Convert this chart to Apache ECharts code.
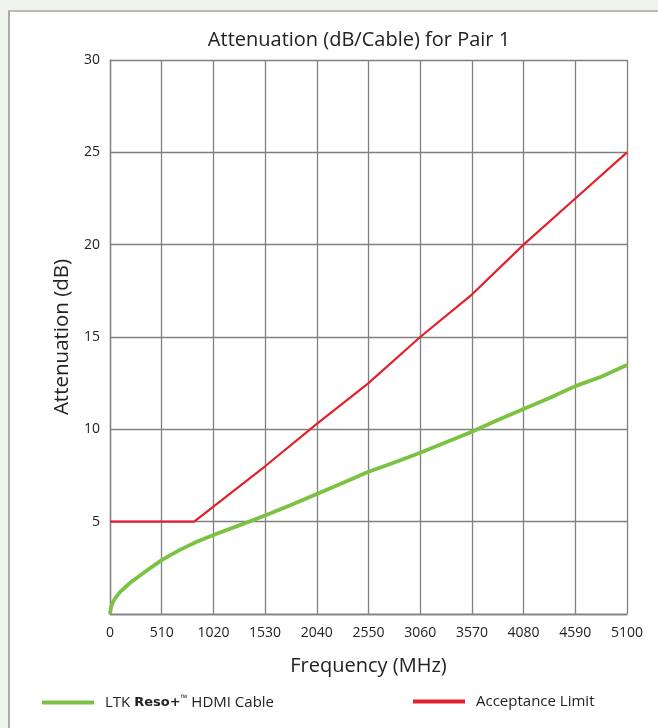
<!DOCTYPE html>
<html><head><meta charset="utf-8">
<script src="https://cdn.jsdelivr.net/npm/echarts@6/dist/echarts.min.js"></script>
<style>
html,body{margin:0;padding:0;width:658px;height:728px;background:#eef3ec;overflow:hidden;}
#panel{position:absolute;left:8px;top:10px;right:0;bottom:0;background:#fff;border-left:2px solid #a8aba6;border-top:2px solid #b8bbb6;}
#chart{position:absolute;left:0;top:0;width:658px;height:728px;}
</style></head>
<body><div id="panel"></div><div id="chart"></div>
<script>
const titleText = 'Attenuation (dB/Cable) for Pair 1';
const xName = 'Frequency (MHz)';
const yName = 'Attenuation (dB)';
const cableName = 'LTK Reso+™ HDMI Cable';
const limitName = 'Acceptance Limit';

const cableFreq = [0,10,25,50,100,150,200,300,400,510,600,700,850,1020,1275,1530,1785,2040,2295,2550,2805,3060,3315,3570,3825,4080,4335,4590,4845,5100];
const cableAtt  = [0,0.35,0.6,0.85,1.2,1.45,1.7,2.1,2.5,2.92,3.2,3.5,3.9,4.28,4.8,5.33,5.9,6.5,7.1,7.7,8.2,8.73,9.3,9.87,10.5,11.1,11.7,12.34,12.85,13.48];

const limitFreq = [0,830,1530,2040,2550,3060,3570,4080,4590,5100];
const limitAtt  = [5,5,8.0,10.3,12.5,15.0,17.3,20.0,22.5,25.0];

const FONT = "'Open Sans',sans-serif";

const chart = echarts.init(document.getElementById('chart'));
chart.setOption({
  backgroundColor: 'transparent',
  animation: false,
  title: {text: titleText, left: 359, top: 30, textAlign: 'center', padding: 0,
    textStyle: {fontFamily: FONT, fontSize: 20, fontWeight: 'normal', color: '#222'}},
  grid: {left: 110, right: 31, top: 60, bottom: 114},
  legend: [
    {data: [cableName], left: 42, top: 694, padding: 0, itemWidth: 52, itemHeight: 4, icon: 'rect',
     formatter: () => '{a|LTK }{b|Reso+}{c|™}{a| HDMI Cable}',
     textStyle: {fontFamily: FONT, fontSize: 15, color: '#222', padding: [0,0,0,6],
       rich: {a: {fontFamily: FONT, fontSize: 15, color: '#222'},
              b: {fontFamily: "'DejaVu Sans'", fontSize: 13, fontWeight: 'bold', color: '#222'},
              c: {fontFamily: FONT, fontSize: 9, color: '#222', verticalAlign: 'top', padding:[0,0,8,0]}}}},
    {data: [limitName], left: 413, top: 694, padding: 0, itemWidth: 52, itemHeight: 4, icon: 'rect',
     textStyle: {fontFamily: FONT, fontSize: 15, color: '#222', padding: [0,0,0,6]}}
  ],
  xAxis: {type: 'value', min: 0, max: 5100, interval: 510,
    name: xName, nameLocation: 'middle', nameGap: 42,
    nameTextStyle: {fontFamily: FONT, fontSize: 20, color: '#222'},
    axisLine: {show: true, lineStyle: {color: '#808080', width: 1.3}},
    axisTick: {show: false},
    axisLabel: {fontFamily: FONT, fontSize: 14, color: '#222', margin: 12,
      formatter: v => String(v)},
    splitLine: {show: true, lineStyle: {color: '#808080', width: 1.3}}},
  yAxis: {type: 'value', min: 0, max: 30, interval: 5,
    name: yName, nameLocation: 'middle', nameGap: 32,
    nameTextStyle: {fontFamily: FONT, fontSize: 20.5, color: '#222'},
    axisLine: {show: true, lineStyle: {color: '#808080', width: 1.3}},
    axisTick: {show: false},
    axisLabel: {fontFamily: FONT, fontSize: 14, color: '#222', margin: 10,
      formatter: v => v === 0 ? '' : String(v)},
    splitLine: {show: true, lineStyle: {color: '#808080', width: 1.3}}},
  series: [
    {name: cableName, type: 'line', showSymbol: false, smooth: false,
     data: cableFreq.map((f,i) => [f, cableAtt[i]]),
     itemStyle: {color: '#7cc242'}, lineStyle: {color: '#7cc242', width: 3.8}, z: 3},
    {name: limitName, type: 'line', showSymbol: false,
     data: limitFreq.map((f,i) => [f, limitAtt[i]]),
     itemStyle: {color: '#e2202b'}, lineStyle: {color: '#e2202b', width: 2.2}, z: 4}
  ]
});
</script></body></html>
